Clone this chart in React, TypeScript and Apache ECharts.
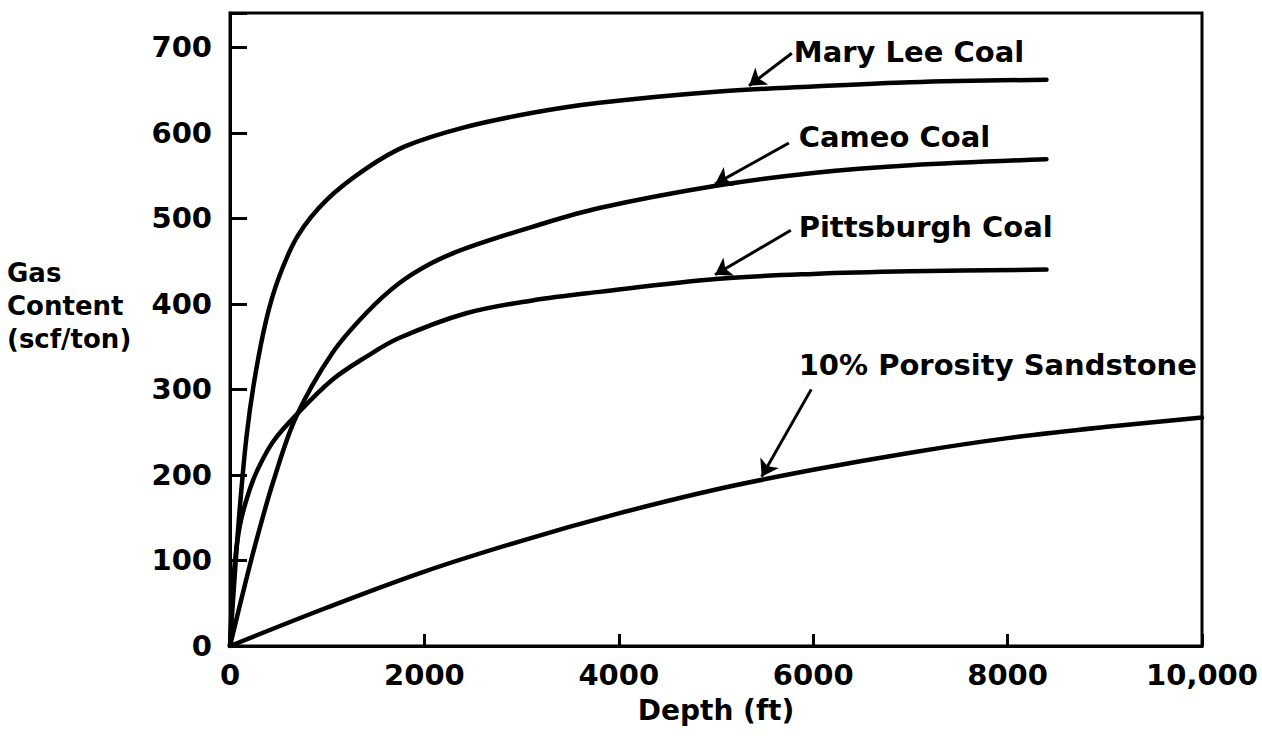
import React, { useEffect, useRef } from "react";
import * as echarts from "echarts";

const FONT = "'DejaVu Sans', 'Liberation Sans', sans-serif";

// Depth (ft) / gas content (scf/ton) pairs
const maryLee: [number, number][] = [
  [0, 0], [50, 85], [100, 160], [170, 245], [250, 310], [370, 380], [500, 430],
  [700, 480], [1000, 522], [1400, 558], [1800, 584], [2400, 606], [3100, 623],
  [3800, 635], [5000, 648], [6000, 654], [7000, 659], [8400, 662],
];
const cameo: [number, number][] = [
  [0, 0], [150, 70], [280, 127], [450, 194], [680, 268], [1050, 342], [1400, 389],
  [1740, 424], [2080, 448], [2430, 465], [3110, 490], [3800, 512], [5000, 538],
  [6000, 553], [7000, 562], [8400, 569],
];
const pittsburgh: [number, number][] = [
  [0, 0], [40, 85], [100, 140], [200, 182], [300, 210], [450, 240], [680, 270],
  [1050, 311], [1400, 338], [1740, 360], [2430, 389], [3110, 404], [3800, 414],
  [5000, 429], [6000, 435], [7000, 438], [8400, 440],
];
const sandstone: [number, number][] = [
  [0, 0], [1000, 45], [2000, 87], [3000, 123], [4000, 155], [5000, 183],
  [6000, 206], [7000, 226], [8000, 243], [9000, 256], [10000, 267],
];

const seriesNames = ["Mary Lee Coal", "Cameo Coal", "Pittsburgh Coal", "10% Porosity Sandstone"];
// label anchor (left edge, vertical middle) in data units
const labelAnchors: [number, number][] = [[5800, 694], [5850, 595], [5850, 490], [5850, 328]];
// arrow tail -> head in data units
const arrowTails: [number, number][] = [[5780, 693], [5750, 588], [5770, 486], [5980, 300]];
const arrowHeads: [number, number][] = [[5340, 655], [4990, 540], [4990, 434], [5470, 198]];

const xTicks = [0, 2000, 4000, 6000, 8000, 10000];
const yTickStep = 100;

export default function App() {
  const ref = useRef<HTMLDivElement>(null);
  useEffect(() => {
    if (!ref.current) return;
    const chart = echarts.init(ref.current, undefined, { renderer: "svg" });
    const lineSeries = (data: [number, number][]) => ({
      type: "line",
      data,
      symbol: "none",
      smooth: 0.35,
      lineStyle: { color: "#000", width: 4.5, cap: "round", join: "round" },
      z: 3,
    });
    chart.setOption({
      animation: false,
      backgroundColor: "#fff",
      grid: {
        left: 230, right: 60, top: 13, bottom: 92,
        show: true, borderColor: "#000", borderWidth: 3,
      },
      xAxis: {
        type: "value",
        min: 0,
        max: 10000,
        interval: 2000,
        name: "Depth (ft)",
        nameLocation: "middle",
        nameGap: 50,
        nameTextStyle: { fontFamily: FONT, fontWeight: "bold", fontSize: 28, color: "#000" },
        axisLine: { lineStyle: { color: "#000", width: 3 } },
        axisTick: { inside: true, length: 12, lineStyle: { color: "#000", width: 3 } },
        axisLabel: {
          margin: 14,
          fontFamily: FONT, fontWeight: "bold", fontSize: 29, color: "#000",
          formatter: (v: number) => (xTicks.includes(v) ? (v >= 10000 ? "10,000" : String(v)) : ""),
        },
        splitLine: { show: false },
      },
      yAxis: {
        type: "value",
        min: 0,
        max: 740,
        interval: yTickStep,
        axisLine: { lineStyle: { color: "#000", width: 3 } },
        axisTick: { inside: true, length: 17, lineStyle: { color: "#000", width: 3 } },
        axisLabel: {
          margin: 18,
          fontFamily: FONT, fontWeight: "bold", fontSize: 29, color: "#000",
          formatter: (v: number) => (v % yTickStep === 0 ? String(v) : ""),
        },
        splitLine: { show: false },
      },
      graphic: [
        {
          type: "text",
          left: 7,
          top: 256,
          style: {
            text: "Gas\nContent\n(scf/ton)",
            fontFamily: FONT,
            fontWeight: "bold",
            fontSize: 26,
            lineHeight: 33,
            fill: "#000",
            align: "left",
          },
        },
      ],
      series: [
        lineSeries(maryLee),
        lineSeries(cameo),
        lineSeries(pittsburgh),
        lineSeries(sandstone),
        {
          type: "lines",
          coordinateSystem: "cartesian2d",
          symbol: ["none", "arrow"],
          symbolSize: [10, 16],
          lineStyle: { color: "#000", width: 3, opacity: 1 },
          data: arrowTails.map((t, i) => ({ coords: [t, arrowHeads[i]] })),
          z: 4,
        },
        {
          type: "scatter",
          symbol: "circle",
          symbolSize: 0.1,
          itemStyle: { color: "#000", opacity: 1 },
          data: labelAnchors.map((p, i) => ({ value: p, name: seriesNames[i] })),
          label: {
            show: true,
            position: "right",
            distance: 0,
            formatter: (p: any) => p.name,
            fontFamily: FONT,
            fontWeight: "bold",
            fontSize: 29,
            color: "#000",
            opacity: 1,
            textBorderWidth: 0,
          },
          emphasis: { disabled: true },
          z: 5,
        },
      ],
    });
    return () => chart.dispose();
  }, []);
  return (
    <div
      ref={ref}
      style={{ position: "fixed", left: 0, top: 0, width: 1262, height: 738, background: "#fff" }}
    />
  );
}
